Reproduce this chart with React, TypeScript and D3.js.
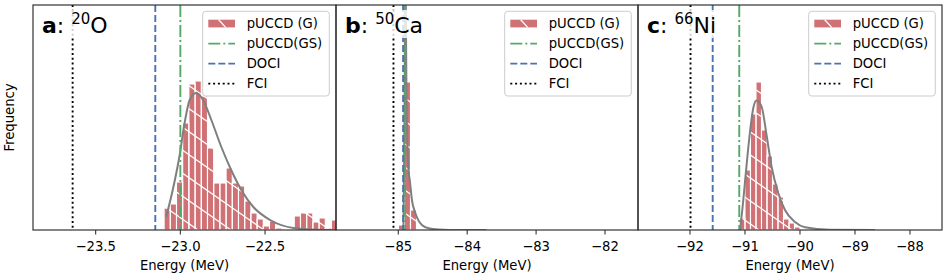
import * as d3 from "d3";
import { useEffect, useRef } from "react";

const W = 947;
const H = 277;
const TOP = 5;
const BOTTOM = 230;

// a: 20O — histogram bin edges (MeV) and counts
const edgesO = [-23.096, -23.0594, -23.0228, -22.9862, -22.9496, -22.913, -22.8764, -22.8398, -22.8032, -22.7666,
  -22.73, -22.6934, -22.6568, -22.6202, -22.5836, -22.547, -22.5104, -22.4738, -22.4372, -22.4006,
  -22.364, -22.3274, -22.2908, -22.2542, -22.2176, -22.181, -22.1444, -22.1078, -22.0712];
const countsO = [22, 26, 48, 107, 146, 149, 134, 82, 47, 47, 62, 47, 44, 29, 17, 11, 4, 9, 2, 0, 0, 14, 17, 17, 8, 12, 2, 10];
const fitXO = [-23.084, -23.045, -23.005, -22.975, -22.945, -22.907, -22.866, -22.817, -22.758, -22.7, -22.64, -22.569, -22.47, -22.333, -22.2, -22.08];
const fitYO = [13, 40, 74, 107, 130, 137, 130, 110, 83, 60, 40, 23, 10, 2, 0.3, 0];
const refO = [-23.0, -23.148, -23.636]; // pUCCD(GS), DOCI, FCI
const ticksO = [-23.5, -23.0, -22.5];

// b: 50Ca
const edgesCa = [-84.997, -84.91, -84.823, -84.736];
const countsCa = [5, 148, 20];
const fitXCa = [-84.925, -84.91, -84.897, -84.882, -84.855, -84.83, -84.802, -84.753, -84.657, -84.56, -84.415, -84.1, -83.72];
const fitYCa = [0, 110, 270, 140, 63, 48, 30, 17, 5, 1.7, 0.5, 0, 0];
const refCa = [-84.9, -84.93, -85.07];
const ticksCa = [-85, -84, -83, -82];

// c: 66Ni
const edgesNi = [-91.1, -91.0, -90.9, -90.8, -90.7, -90.6, -90.5, -90.4, -90.3, -90.2, -90.1, -90.0];
const countsNi = [12, 60, 116, 148, 100, 74, 46, 33, 11, 7, 3];
const fitXNi = [-91.09, -91.045, -91.0, -90.909, -90.849, -90.791, -90.696, -90.605, -90.515, -90.395, -90.273, -90.091, -89.909, -89.455, -88.636];
const fitYNi = [0, 22, 48, 98, 122, 129.5, 123, 94, 63, 37, 20, 8, 2.7, 0.3, 0];
const refNi = [-91.104, -91.587, -91.99];
const ticksNi = [-92, -91, -90, -89, -88];

const legendLabels = ["pUCCD (G)", "pUCCD(GS)", "DOCI", "FCI"];

const RED = "#d07175";
const GREEN = "#55a868";
const BLUE = "#4c72b0";
const GRAY = "#7f7f7f";
const FONT = "'DejaVu Sans', sans-serif";
const FS = 13.2;

const panels = [
  { tag: "a", mass: "20", el: "O", left: 33, right: 336, domain: [-23.87, -22.081], ticks: ticksO, fmt: ".1f",
    edges: edgesO, counts: countsO, fitX: fitXO, fitY: fitYO, refs: refO },
  { tag: "b", mass: "50", el: "Ca", left: 336, right: 638, domain: [-85.904, -81.521], ticks: ticksCa, fmt: "d",
    edges: edgesCa, counts: countsCa, fitX: fitXCa, fitY: fitYCa, refs: refCa },
  { tag: "c", mass: "66", el: "Ni", left: 638, right: 942, domain: [-92.945, -87.418], ticks: ticksNi, fmt: "d",
    edges: edgesNi, counts: countsNi, fitX: fitXNi, fitY: fitYNi, refs: refNi },
];

const refStyles = [
  { color: GREEN, dash: "12,3,2,3" },
  { color: BLUE, dash: "7,3" },
  { color: "#000", dash: "2,2.8" },
];

export default function App() {
  const ref = useRef<SVGSVGElement>(null);

  useEffect(() => {
    const svg = d3.select(ref.current);
    svg.selectAll("*").remove();

    // white "\" hatch used on the histogram bars
    const defs = svg.append("defs");
    const pw = 33, ph = 23;
    const pat = defs.append("pattern")
      .attr("id", "hatch")
      .attr("patternUnits", "userSpaceOnUse")
      .attr("width", pw)
      .attr("height", ph);
    [[0, 0], [pw, 0], [-pw, 0], [0, ph], [0, -ph]].forEach(([dx, dy]) => {
      pat.append("line")
        .attr("x1", dx).attr("y1", dy)
        .attr("x2", dx + pw).attr("y2", dy + ph)
        .attr("stroke", "#fff").attr("stroke-width", 1.3);
    });

    const y = d3.scaleLinear().domain([0, 225]).range([BOTTOM, TOP]);

    panels.forEach((p, pi) => {
      const x = d3.scaleLinear().domain(p.domain).range([p.left, p.right]);
      const g = svg.append("g");

      defs.append("clipPath").attr("id", `clip${pi}`)
        .append("rect")
        .attr("x", p.left).attr("y", TOP)
        .attr("width", p.right - p.left).attr("height", BOTTOM - TOP);

      const plot = g.append("g").attr("clip-path", `url(#clip${pi})`);

      const bins = p.counts.map((c, i) => ({ x0: p.edges[i], x1: p.edges[i + 1], c }));
      plot.selectAll(".bar").data(bins).enter().append("rect")
        .attr("x", d => x(d.x0)).attr("y", d => y(d.c))
        .attr("width", d => x(d.x1) - x(d.x0)).attr("height", d => BOTTOM - y(d.c))
        .attr("fill", RED);
      plot.selectAll(".hat").data(bins).enter().append("rect")
        .attr("x", d => x(d.x0)).attr("y", d => y(d.c))
        .attr("width", d => x(d.x1) - x(d.x0)).attr("height", d => BOTTOM - y(d.c))
        .attr("fill", "url(#hatch)")
        .attr("stroke", "#fff").attr("stroke-width", 1.1);

      const pts = p.fitX.map((v, i) => [v, p.fitY[i]] as [number, number]);
      plot.append("path")
        .attr("d", d3.line<[number, number]>().x(d => x(d[0])).y(d => y(d[1])).curve(d3.curveMonotoneX)(pts))
        .attr("fill", "none").attr("stroke", GRAY).attr("stroke-width", 2);

      p.refs.forEach((v, i) => {
        plot.append("line")
          .attr("x1", x(v)).attr("x2", x(v)).attr("y1", TOP).attr("y2", BOTTOM)
          .attr("stroke", refStyles[i].color).attr("stroke-width", 1.9)
          .attr("stroke-dasharray", refStyles[i].dash);
      });

      // panel label with translucent box
      const lbl = g.append("text")
        .attr("x", p.left + 9).attr("y", 33)
        .attr("font-family", FONT).attr("font-size", 22)
        .style("white-space", "pre");
      lbl.append("tspan").attr("font-weight", "bold").text(p.tag);
      lbl.append("tspan").text(": ");
      lbl.append("tspan").attr("font-size", 15).attr("dy", -9).text(p.mass);
      lbl.append("tspan").attr("dy", 9).text(p.el);
      const bb = (lbl.node() as SVGTextElement).getBBox();
      g.insert("rect", "text")
        .attr("x", bb.x - 3).attr("y", 10)
        .attr("width", bb.width + 6).attr("height", 28)
        .attr("fill", "#fff").attr("opacity", 0.8);

      // spines and ticks
      g.append("rect")
        .attr("x", p.left).attr("y", TOP)
        .attr("width", p.right - p.left).attr("height", BOTTOM - TOP)
        .attr("fill", "none").attr("stroke", "#333").attr("stroke-width", 1.2);
      const f = d3.format(p.fmt);
      p.ticks.forEach(t => {
        g.append("line")
          .attr("x1", x(t)).attr("x2", x(t)).attr("y1", BOTTOM).attr("y2", BOTTOM + 4.5)
          .attr("stroke", "#333").attr("stroke-width", 1.1);
        g.append("text")
          .attr("x", x(t)).attr("y", 251)
          .attr("text-anchor", "middle")
          .attr("font-family", FONT).attr("font-size", FS)
          .text(f(t));
      });
      g.append("text")
        .attr("x", (p.left + p.right) / 2).attr("y", 269.5)
        .attr("text-anchor", "middle")
        .attr("font-family", FONT).attr("font-size", FS)
        .text("Energy (MeV)");

      // legend
      const lw = 126.6, lh = 84.7;
      const lx = p.right - 6.7 - lw, ly = TOP + 6.3;
      const lg = g.append("g");
      lg.append("rect")
        .attr("x", lx).attr("y", ly).attr("width", lw).attr("height", lh).attr("rx", 3)
        .attr("fill", "#fff").attr("fill-opacity", 0.8)
        .attr("stroke", "#ccc").attr("stroke-width", 1);
      legendLabels.forEach((name, i) => {
        const ry = ly + 12.3 + i * 20;
        if (i === 0) {
          lg.append("rect")
            .attr("x", lx + 5.6).attr("y", ry - 3.9).attr("width", 26.7).attr("height", 7.7)
            .attr("fill", RED);
          lg.append("line")
            .attr("x1", lx + 16).attr("y1", ry - 3.9).attr("x2", lx + 23).attr("y2", ry + 3.8)
            .attr("stroke", "#fff").attr("stroke-width", 1.3);
        } else {
          const s = refStyles[i - 1];
          lg.append("line")
            .attr("x1", lx + 5.6).attr("x2", lx + 32.3).attr("y1", ry).attr("y2", ry)
            .attr("stroke", s.color).attr("stroke-width", 1.9).attr("stroke-dasharray", s.dash);
        }
        lg.append("text")
          .attr("x", lx + 44).attr("y", ry).attr("dy", "0.36em")
          .attr("font-family", FONT).attr("font-size", FS)
          .text(name);
      });
    });

    svg.append("text")
      .attr("transform", `translate(14,${(TOP + BOTTOM) / 2}) rotate(-90)`)
      .attr("text-anchor", "middle")
      .attr("font-family", FONT).attr("font-size", FS)
      .text("Frequency");
  }, []);

  return (
    <svg ref={ref} width={W} height={H}
      style={{ position: "absolute", left: 0, top: 0, background: "#fff" }} />
  );
}
